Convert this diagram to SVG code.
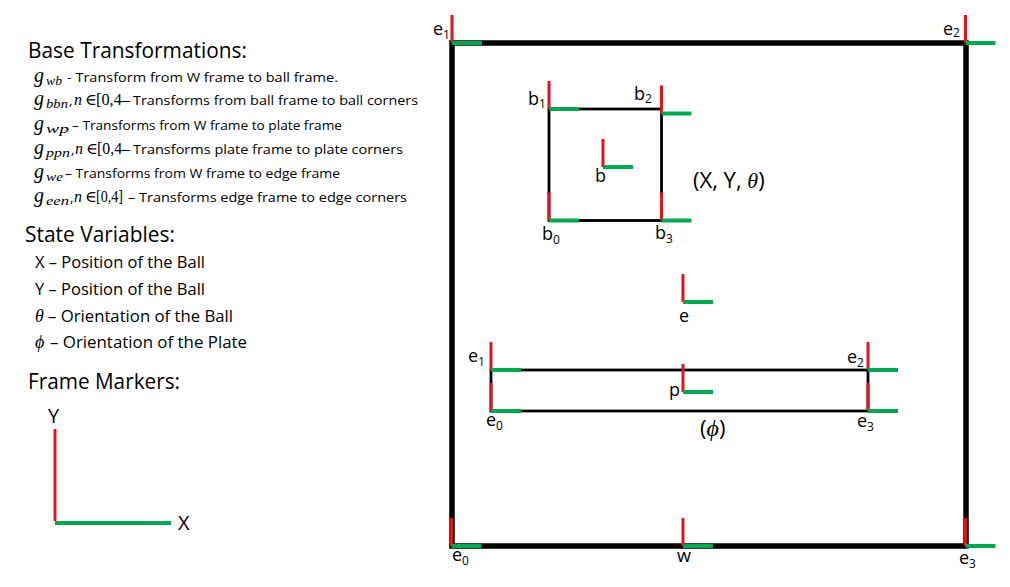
<svg xmlns="http://www.w3.org/2000/svg" xmlns:xlink="http://www.w3.org/1999/xlink" width="1010" height="587" viewBox="0 0 1010 587">
<style>
.frame{fill:none;stroke:#000;stroke-width:5.5}
.box{fill:none;stroke:#000;stroke-width:2.8}
.ry{stroke:#E3121B;stroke-width:3}
.gx{stroke:#00A650;stroke-width:4}
.t{font-family:"Open Sans","Liberation Sans",sans-serif;fill:#000}
.h{font-size:21px}
.s{font-size:13.5px}
.v{font-size:16px}
.m{font-family:"Liberation Serif","DejaVu Serif",serif;font-style:italic;fill:#000}
.mu{font-family:"Liberation Serif","DejaVu Serif",serif;fill:#000}
.lbl{font-family:"Open Sans","Liberation Sans",sans-serif;font-size:18px;fill:#000}
.sb{font-size:12px}
</style>
<defs>
<g id="mk">
<line class="ry" x1="0" y1="-28" x2="0" y2="0"/>
<line class="gx" x1="0" y1="0" x2="30" y2="0"/>
</g>
</defs>
<rect width="1010" height="587" fill="#fff"/>

<g id="legend-text">
<text class="t h" x="28" y="58" textLength="219" lengthAdjust="spacingAndGlyphs">Base Transformations:</text>
<g id="tf1">
<text class="m" x="34" y="82" font-size="20">g</text><text class="m" x="46" y="85" font-size="12.5" textLength="16" lengthAdjust="spacingAndGlyphs">wb</text>
<text class="t s" x="67" y="82" textLength="271" lengthAdjust="spacingAndGlyphs">- Transform from W frame to ball frame.</text>
</g>
<g id="tf2">
<text class="m" x="34" y="105" font-size="20">g</text><text class="m" x="46" y="108" font-size="12.5" textLength="22" lengthAdjust="spacingAndGlyphs">bbn</text>
<text class="t s" x="69" y="105">,</text><text class="m" x="74" y="105" font-size="16">n</text><text class="mu" x="85" y="105" font-size="16">∈</text>
<text class="mu" x="96" y="105" font-size="16" textLength="34" lengthAdjust="spacingAndGlyphs">[0,4–</text>
<text class="t s" x="133" y="105" textLength="285" lengthAdjust="spacingAndGlyphs">Transforms from ball frame to ball corners</text>
</g>
<g id="tf3">
<text class="m" x="34" y="130" font-size="20">g</text><text class="m" x="46" y="133" font-size="12.5" textLength="23" lengthAdjust="spacingAndGlyphs">wp</text>
<text class="t s" x="72" y="130" textLength="270" lengthAdjust="spacingAndGlyphs">– Transforms from W frame to plate frame</text>
</g>
<g id="tf4">
<text class="m" x="34" y="154" font-size="20">g</text><text class="m" x="46" y="157" font-size="12.5" textLength="24" lengthAdjust="spacingAndGlyphs">ppn</text>
<text class="t s" x="71" y="154">,</text><text class="m" x="75" y="154" font-size="16">n</text><text class="mu" x="86" y="154" font-size="16">∈</text>
<text class="mu" x="97" y="154" font-size="16" textLength="33" lengthAdjust="spacingAndGlyphs">[0,4–</text>
<text class="t s" x="133" y="154" textLength="270" lengthAdjust="spacingAndGlyphs">Transforms plate frame to plate corners</text>
</g>
<g id="tf5">
<text class="m" x="34" y="178" font-size="20">g</text><text class="m" x="46" y="181" font-size="12.5" textLength="17" lengthAdjust="spacingAndGlyphs">we</text>
<text class="t s" x="65" y="178" textLength="275" lengthAdjust="spacingAndGlyphs">– Transforms from W frame to edge frame</text>
</g>
<g id="tf6">
<text class="m" x="34" y="202" font-size="20">g</text><text class="m" x="46" y="205" font-size="12.5" textLength="23" lengthAdjust="spacingAndGlyphs">een</text>
<text class="t s" x="70" y="202">,</text><text class="m" x="74" y="202" font-size="16">n</text><text class="mu" x="85" y="202" font-size="16">∈</text>
<text class="mu" x="96" y="202" font-size="16" textLength="27" lengthAdjust="spacingAndGlyphs">[0,4]</text>
<text class="t s" x="128" y="202" textLength="279" lengthAdjust="spacingAndGlyphs">– Transforms edge frame to edge corners</text>
</g>

<text class="t h" x="25" y="242" textLength="150" lengthAdjust="spacingAndGlyphs">State Variables:</text>
<text class="t v" x="35" y="268" textLength="170" lengthAdjust="spacingAndGlyphs">X – Position of the Ball</text>
<text class="t v" x="35" y="295" textLength="170" lengthAdjust="spacingAndGlyphs">Y – Position of the Ball</text>
<text class="m" x="35" y="322" font-size="18">θ</text>
<text class="t v" x="48" y="322" textLength="185" lengthAdjust="spacingAndGlyphs">– Orientation of the Ball</text>
<text class="m" x="35" y="348" font-size="18">ϕ</text>
<text class="t v" x="50" y="348" textLength="197" lengthAdjust="spacingAndGlyphs">– Orientation of the Plate</text>

<text class="t h" x="28" y="389" textLength="152" lengthAdjust="spacingAndGlyphs">Frame Markers:</text>
</g>

<g id="legend-marker">
<line class="ry" x1="55" y1="429" x2="55" y2="521" stroke-width="4"/>
<line class="gx" x1="55" y1="523" x2="171" y2="523"/>
<text class="t" x="48" y="423" font-size="20">Y</text>
<text class="t" x="178" y="530" font-size="20">X</text>
</g>

<g id="connectors">
<rect id="edge-frame" class="frame" x="452" y="43" width="514" height="503"/>
<rect id="ball-box" class="box" x="549" y="109" width="112.5" height="111.5"/>
<rect id="plate-box" class="box" x="491" y="370" width="377" height="41"/>
</g>

<g id="edge-corners">
<use xlink:href="#mk" transform="translate(452,43)"/>
<use xlink:href="#mk" transform="translate(965.5,43)"/>
<use xlink:href="#mk" transform="translate(451.5,546)"/>
<use xlink:href="#mk" transform="translate(965.5,546)"/>
<text class="lbl" x="433" y="35">e<tspan class="sb" dy="4">1</tspan></text>
<text class="lbl" x="943" y="35">e<tspan class="sb" dy="2">2</tspan></text>
<text class="lbl" x="452" y="561">e<tspan class="sb" dy="4">0</tspan></text>
<text class="lbl" x="959" y="564">e<tspan class="sb" dy="4">3</tspan></text>
</g>

<g id="world">
<use xlink:href="#mk" transform="translate(683,546)"/>
<text class="lbl" x="677" y="562">w</text>
</g>

<g id="ball">
<use xlink:href="#mk" transform="translate(549,109)"/>
<use xlink:href="#mk" transform="translate(661.5,113.5)"/>
<use xlink:href="#mk" transform="translate(549,220.5)"/>
<use xlink:href="#mk" transform="translate(661.5,220.5)"/>
<use xlink:href="#mk" transform="translate(603,167)"/>
<text class="lbl" x="528" y="105">b<tspan class="sb" dy="3">1</tspan></text>
<text class="lbl" x="634" y="100">b<tspan class="sb" dy="3">2</tspan></text>
<text class="lbl" x="595" y="182">b</text>
<text class="lbl" x="542" y="240">b<tspan class="sb" dy="4">0</tspan></text>
<text class="lbl" x="655" y="239">b<tspan class="sb" dy="4">3</tspan></text>
<text class="t" x="693" y="188" font-size="22">(X, Y, <tspan class="m" font-size="22">θ</tspan>)</text>
</g>

<g id="edge">
<use xlink:href="#mk" transform="translate(683,302)"/>
<text class="lbl" x="679" y="322">e</text>
</g>

<g id="plate">
<use xlink:href="#mk" transform="translate(491,370)"/>
<use xlink:href="#mk" transform="translate(491,411)"/>
<use xlink:href="#mk" transform="translate(868,370)"/>
<use xlink:href="#mk" transform="translate(868,411)"/>
<use xlink:href="#mk" transform="translate(683,392)"/>
<text class="lbl" x="468" y="362">e<tspan class="sb" dy="4">1</tspan></text>
<text class="lbl" x="486" y="426">e<tspan class="sb" dy="4">0</tspan></text>
<text class="lbl" x="847" y="363">e<tspan class="sb" dy="4">2</tspan></text>
<text class="lbl" x="857" y="427">e<tspan class="sb" dy="4">3</tspan></text>
<text class="lbl" x="669" y="396">p</text>
<text class="t" x="700" y="436" font-size="22">(<tspan class="m" font-size="24">ϕ</tspan>)</text>
</g>
</svg>
